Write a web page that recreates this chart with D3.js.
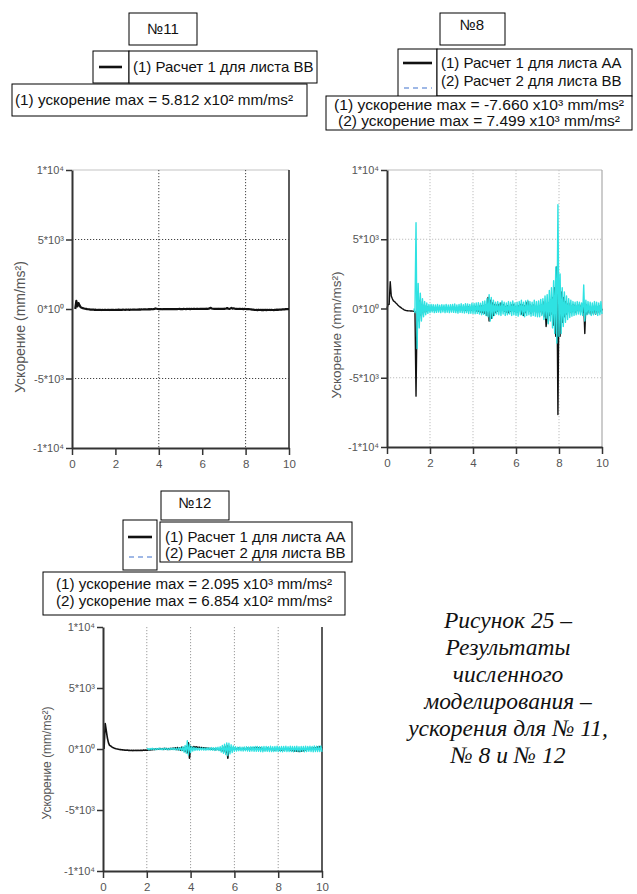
<!DOCTYPE html>
<html>
<head>
<meta charset="utf-8">
<script src="https://cdn.jsdelivr.net/npm/d3@7/dist/d3.min.js"></script>
<style>
  body { margin: 0; background: #fff; }
  svg { display: block; }
</style>
</head>
<body>
<svg id="fig" width="637" height="894"></svg>
<script>
// ---- axes ----
const timeTicks = [0, 2, 4, 6, 8, 10];
const accelTicks = [-1e4, -5e3, 0, 5e3, 1e4];
const accelTickLabels = ["-1*10⁴", "-5*10³", "0*10⁰", "5*10³", "1*10⁴"];
const accelTitle = "Ускорение (mm/ms²)";

// ---- records: acceleration (mm/ms²), sampled every sampleStep ms ----
const sampleStep = 0.05;

// №11, sheet BB
const start11BB = 0.15;
const accel11BB = [
  0, 581.2, 180, 430, 260, 120, 90, 60, 40, 20, 10, -10, -20, -30, -40, -35, -50, -45,
  -60, -50, -70, -55, -65, -60, -75, -55, -70, -60, -65, -70, -55, -60, -75, -60, -65, -55, -70, -60,
  -55, -60, -50, -65, -55, -60, -50, -55, -65, -50, -55, -45, -60, -50, -55, -45, -50, -40, -55, -45,
  -40, -30, -45, -30, -35, -25, -30, -20, -35, -20, -15, -25, -10, -20, -5, 10, 40, 20, 0, -10,
  -15, -10, -20, -5, -15, -10, -5, -15, -10, -5, -10, 0, -10, -5, 0, -10, -5, 0, 5, -5,
  0, -5, 5, 0, -5, 5, 0, 10, -5, 5, 0, 10, 5, 0, 10, 5, 0, 10, 15, 5,
  10, 5, 15, 20, 10, 25, 60, 80, 30, 20, 10, 15, 5, 10, 20, 10, 5, 15, 10, 20,
  15, 30, 70, 20, 10, 40, 80, 30, 50, 20, 10, 15, 0, 10, 5, 0, 10, -5, 5, 0,
  -5, 0, -10, -20, -30, -40, -50, -60, -70, -60, -80, -50, -70, -60, -80, -65, -75, -55, -80, -60,
  -70, -55, -75, -60, -70, -80, -55, -65, -50, -60, -40, -35, -45, -30, -20, -25, -10, -15, -5, 0
];

// №8, sheet AA
const start8AA = 0;
const accel8AA = [
  0, 300, 300, 1940, 900, 700, 550, 500, 420, 350, 250, 180, 120, 60, 0, -50, -100, -130, -150, -160, -170,
  -170, -180, -180, -190, -200, -220, -6330, -300, 1200, -900, 600, -500, 300, -300, 200, -250, 150, -150, 100, -100,
  -100, 80, -90, 60, -80, 50, -70, 60, -50, 40, -60, 50, -40, 60, -50, 40, -60, 30, -40, 50,
  -60, 80, -70, 60, -90, 70, -80, 100, -90, 60, -100, 80, -120, 90, -100, 110, -90, 80, -130, 100,
  -120, 150, -180, 120, -200, 160, -250, 180, -300, 200, -350, 250, -500, 800, -900, 600, -700, 400, -500, 300,
  -300, 250, -200, 300, 200, 400, -100, 300, -200, 150, -250, 200, -300, 100, -200, 250, -150, 300, -200, 150,
  -250, 200, -150, 300, -400, 250, -500, 200, -300, 400, 500, -200, 300, -350, 200, -250, 300, -200, 150, -300,
  200, -250, 300, -400, 500, -600, 300, -1300, -700, 400, -500, 600, -400, 800, -1200, 1500, -2000, 3000, -7660, 1500,
  -2000, 1200, -1000, 800, -600, 500, -400, 300, 400, -300, 200, -250, 300, -200, 250, -300, 200, -150, 300, -200,
  250, -300, 400, -1800, 300, -400, 200, -300, 150, -400, 100, -350, 200, -400, 150, -300, 200, -250, 100, -150
];

// №8, sheet BB
const start8BB = 1.25;
const accel8BB = [
  0, -300, 6190, -2900, 1800, -1400, 1100, -900, 700, -600, 500, -450, 400, -350, 300, -300,
  300, -250, 280, -300, 250, -280, 300, -260, 240, -300, 280, -250, 260, -300, 300, -270, 250, -300, 280, -260,
  300, -280, 320, -300, 260, -330, 300, -280, 340, -300, 280, -320, 350, -300, 330, -360, 300, -340, 380, -350,
  360, -380, 400, -350, 420, -400, 380, -450, 500, -420, 550, -500, 700, -600, 1000, -900, 800, -700, 600, -500,
  450, -400, 500, -450, 400, -500, 550, -400, 450, -500, 400, -450, 500, -400, 450, -500, 550, -450, 400, -500,
  450, -550, 500, -450, 600, -500, 450, -600, 550, -500, 600, -450, 500, -550, 450, -500, 600, -550, 500, -600,
  550, -600, 650, -500, 700, -800, 900, -700, 1000, -1100, 1300, -900, 1500, -1400, 2000, -1800, 3000, -2500, 7499, -2000,
  2500, -1800, 1500, -1300, 1200, -1000, 900, -800, 700, -650, 600, -550, 500, -500, 450, -450, 500, -400, 450, -450,
  400, -500, 1700, -900, 600, -450, 500, -400, 450, -500, 400, -450, 500, -400, 450, -500, 400, -450, 500, -400
];

// №12, sheet AA
const start12AA = 0.05;
const accel12AA = [
  0, 2095, 1500, 900, 500, 300, 250, 180, 120, 80, 50, 20, 0, -20, -40, -50, -60, -70, -80, -90,
  -100, -90, -110, -100, -120, -110, -130, -115, -120, -110, -130, -100, -120, -110, -100, -120, -90, -110, -80, -100,
  -90, -60, -80, -40, -60, -20, -50, 0, -30, 20, -20, 40, -10, 30, -30, 50, -20, 40, -40, 30,
  -30, 60, -20, 80, 0, 100, -40, 120, -60, 80, -100, 150, -100, 120, -200, 200, -300, 500, -750, 200,
  150, 100, 200, 120, 180, 150, 100, 140, 90, 120, 60, 100, 40, 80, 20, 60, 0, 40, -20, 30,
  -30, 20, -50, 40, 0, -60, 30, -100, 50, -200, 200, -300, 300, -750, 200, -200, 100, -50, 80, 0,
  50, -20, 80, 20, 60, -30, 40, 0, 70, -40, 30, 60, 0, 50, -20, 80, 30, 100, 40, 120,
  60, 100, 20, 80, -20, 40, -60, 20, -40, 60, 0, -50, 30, -80, 0, -100, -20, -60, 10, -40,
  -80, -20, -100, -40, -60, 0, -30, 40, -50, 20, -80, -40, -120, -60, -150, -100, -180, -120, -200, -150,
  -180, -100, -140, -60, -80, 0, -20, 40, 0, 60, 20, 80, 40, 100, 60, 150, 100, 200, 120, 180
];

// №12, sheet BB
const start12BB = 2.0;
const accel12BB = [
  0,
  40, -60, 50, -40, 60, -50, 30, -60, 50, -40, 70, -50, 40, -60, 50, -40, 60, -50, 40, -60,
  60, -50, 70, -60, 80, -70, 60, -80, 100, -90, 120, -150, 200, -250, 300, -350, 685.4, -500, 400, -300,
  200, -180, 150, -120, 100, -90, 80, -100, 90, -80, 100, -90, 80, -100, 90, -80, 100, -90, 120, -100,
  110, -120, 130, -100, 150, -140, 200, -250, 300, -350, 400, -450, 500, -550, 480, -400, 350, -300, 250, -200,
  200, -180, 160, -150, 180, -160, 150, -170, 180, -150, 200, -180, 170, -200, 190, -180, 200, -190, 210, -200,
  220, -200, 190, -210, 200, -230, 210, -200, 220, -190, 200, -220, 230, -210, 200, -220, 210, -200, 230, -210,
  200, -220, 210, -230, 220, -200, 230, -210, 200, -220, 240, -210, 220, -230, 210, -200, 230, -220, 200, -230,
  220, -200, 210, -230, 240, -210, 220, -200, 230, -220, 210, -240, 250, -220, 230, -210, 240, -220, 260, -230
];

// ---- captions ----
const panelTitles = ["№11", "№8", "№12"];
const legendNames11 = ["(1) Расчет 1 для листа ВВ"];
const legendNames8 = ["(1) Расчет 1 для листа АА", "(2) Расчет 2 для листа ВВ"];
const legendNames12 = ["(1) Расчет 1 для листа АА", "(2) Расчет 2 для листа ВВ"];
const figureCaption = ["Рисунок 25 –", "Результаты", "численного", "моделирования –", "ускорения для № 11,", "№ 8 и № 12"];

// ---- styling ----
const SANS = "'Liberation Sans', Arial, sans-serif";
const SERIF = "'Liberation Serif', 'Times New Roman', serif";
const COL_AA = "#111";
const COL_BB = "#2fe2e2";
const COL_BB_KEY = "#9fb8e6";
const BOX_FONT = 15;
const PEAK_FONT = 14;

const svg = d3.select("#fig");

// peak of a record by absolute value, written like "5.812 x10²"
const SUP = { "0": "⁰", "1": "¹", "2": "²", "3": "³", "4": "⁴", "5": "⁵", "-": "⁻" };
function peakOf(values) {
  return values.reduce((m, v) => Math.abs(v) > Math.abs(m) ? v : m, 0);
}
function sci(v) {
  const e = Math.floor(Math.log10(Math.abs(v)));
  const m = (v / Math.pow(10, e)).toFixed(3);
  return `${m} x10${String(e).split("").map(c => SUP[c]).join("")}`;
}
function peakLine(n, values) {
  return `(${n}) ускорение max = ${sci(peakOf(values))} mm/ms²`;
}

function drawPanel(cfg) {
  const g = svg.append("g");
  const x = d3.scaleLinear().domain([0, 10]).range([cfg.left, cfg.right]);
  const y = d3.scaleLinear().domain([-1e4, 1e4]).range([cfg.bottom, cfg.top]);

  // frame on top/right
  if (cfg.topFrame) {
    g.append("line").attr("x1", cfg.left).attr("x2", cfg.right)
      .attr("y1", cfg.top).attr("y2", cfg.top)
      .attr("stroke", cfg.topFrame).attr("stroke-width", 1.2);
  }
  g.append("line").attr("x1", cfg.right).attr("x2", cfg.right)
    .attr("y1", cfg.top).attr("y2", cfg.bottom)
    .attr("stroke", cfg.rightFrame).attr("stroke-width", cfg.rightFrameWidth);

  // dotted grid
  g.selectAll(".vgrid").data(cfg.vGrid).enter().append("line")
    .attr("x1", d => x(d)).attr("x2", d => x(d))
    .attr("y1", cfg.top).attr("y2", cfg.bottom)
    .attr("stroke", cfg.gridColor).attr("stroke-width", 1)
    .attr("stroke-dasharray", "1.2,1.8");
  g.selectAll(".hgrid").data(cfg.hGrid).enter().append("line")
    .attr("x1", cfg.left).attr("x2", cfg.right)
    .attr("y1", d => y(d)).attr("y2", d => y(d))
    .attr("stroke", cfg.gridColor).attr("stroke-width", 1)
    .attr("stroke-dasharray", "1.2,1.8");

  // records
  cfg.series.forEach(s => {
    const line = d3.line()
      .x((d, i) => x(s.start + i * sampleStep))
      .y(d => y(d));
    g.append("path").datum(s.values)
      .attr("d", line)
      .attr("fill", "none")
      .attr("stroke", s.color)
      .attr("stroke-width", s.width)
      .attr("stroke-linejoin", "round");
  });

  // axes
  const yAxis = d3.axisLeft(y).tickValues(accelTicks)
    .tickFormat((d, i) => accelTickLabels[i])
    .tickSize(6).tickSizeOuter(0).tickPadding(2);
  g.append("g").attr("transform", `translate(${cfg.left},0)`).call(yAxis)
    .call(a => a.select(".domain").attr("stroke", "#333").attr("stroke-width", 2))
    .call(a => a.selectAll(".tick line").attr("stroke", "#333").attr("stroke-width", 1.5))
    .call(a => a.selectAll("text").attr("font-size", 11).attr("fill", "#555")
      .attr("font-family", SANS));

  const xAxis = d3.axisBottom(x).tickValues(timeTicks)
    .tickSize(7).tickSizeOuter(0).tickPadding(5);
  g.append("g").attr("transform", `translate(0,${cfg.bottom})`).call(xAxis)
    .call(a => a.select(".domain").attr("stroke", "#333").attr("stroke-width", 2))
    .call(a => a.selectAll(".tick line").attr("stroke", "#333").attr("stroke-width", 1.5))
    .call(a => a.selectAll("text").attr("font-size", 11.5).attr("fill", "#555")
      .attr("font-family", SANS));

  g.append("text")
    .attr("transform", `translate(${cfg.titleX},${cfg.titleY}) rotate(-90)`)
    .attr("text-anchor", "middle").attr("dominant-baseline", "middle")
    .attr("font-family", SANS).attr("font-size", cfg.titleSize).attr("fill", "#555")
    .text(accelTitle);
}

function box(x, y, w, h) {
  svg.append("rect").attr("x", x).attr("y", y).attr("width", w).attr("height", h)
    .attr("fill", "#fff").attr("stroke", "#000").attr("stroke-width", 1);
}
function text(x, y, t, size, anchor, width) {
  const el = svg.append("text").attr("x", x).attr("y", y)
    .attr("font-family", SANS).attr("font-size", size)
    .attr("text-anchor", anchor || "start").attr("fill", "#111")
    .text(t);
  if (width) el.attr("textLength", width).attr("lengthAdjust", "spacingAndGlyphs");
}
function keyLine(x1, x2, y, color, dashed) {
  svg.append("line").attr("x1", x1).attr("x2", x2).attr("y1", y).attr("y2", y)
    .attr("stroke", color).attr("stroke-width", dashed ? 2 : 2.6)
    .attr("stroke-dasharray", dashed ? "5,4" : null);
}

// ---- panel №11 ----
drawPanel({
  left: 72, right: 289, top: 170, bottom: 448,
  topFrame: "#c4c4c4", rightFrame: "#333", rightFrameWidth: 1.6,
  vGrid: [4, 8], hGrid: [-5e3, 5e3], gridColor: "#444",
  titleX: 21, titleY: 327, titleSize: 14,
  series: [{ start: start11BB, values: accel11BB, color: COL_AA, width: 2.2 }]
});
box(129, 13, 68, 32); text(163, 34, panelTitles[0], BOX_FONT, "middle");
box(93, 51, 36, 32); keyLine(99, 122, 67, COL_AA, false);
box(129, 51, 188, 32); text(133, 72, legendNames11[0], BOX_FONT);
box(12, 84, 295, 32); text(15, 105, peakLine(1, accel11BB), BOX_FONT, "start", 278);

// ---- panel №8 ----
drawPanel({
  left: 387, right: 602, top: 170, bottom: 447,
  topFrame: "#bbb", rightFrame: "#aaa", rightFrameWidth: 1.2,
  vGrid: [2, 4, 6, 8], hGrid: [-5e3, 5e3], gridColor: "#bdbdbd",
  titleX: 337, titleY: 335, titleSize: 13.5,
  series: [
    { start: start8AA, values: accel8AA, color: COL_AA, width: 1.4 },
    { start: start8BB, values: accel8BB, color: COL_BB, width: 1.4 }
  ]
});
box(440, 13, 65, 32); text(472, 30, panelTitles[1], BOX_FONT, "middle");
box(398, 49, 39, 55); keyLine(403, 432, 63, COL_AA, false); keyLine(404, 432, 88, COL_BB_KEY, true);
box(437, 49, 195, 47);
text(441, 68, legendNames8[0], BOX_FONT); text(441, 86, legendNames8[1], BOX_FONT);
box(326, 96, 306, 34);
text(479, 110, peakLine(1, accel8AA), PEAK_FONT, "middle", 290);
text(479, 126, peakLine(2, accel8BB), PEAK_FONT, "middle", 282);

// ---- panel №12 ----
drawPanel({
  left: 103, right: 322, top: 627, bottom: 871,
  topFrame: null, rightFrame: "#333", rightFrameWidth: 1.6,
  vGrid: [2, 4, 6, 8], hGrid: [], gridColor: "#9a9a9a",
  titleX: 48, titleY: 763, titleSize: 12,
  series: [
    { start: start12AA, values: accel12AA, color: COL_AA, width: 1.6 },
    { start: start12BB, values: accel12BB, color: COL_BB, width: 1.3 }
  ]
});
box(161, 491, 68, 29); text(195, 508, panelTitles[2], BOX_FONT, "middle");
box(123, 520, 34, 50); keyLine(128, 152, 537, COL_AA, false); keyLine(129, 152, 557, COL_BB_KEY, true);
box(160, 522, 192, 40);
text(165, 542, legendNames12[0], BOX_FONT); text(165, 558, legendNames12[1], BOX_FONT);
box(43, 572, 302, 43);
text(194, 589, peakLine(1, accel12AA), PEAK_FONT, "middle", 276);
text(194, 606, peakLine(2, accel12BB), PEAK_FONT, "middle", 276);

// ---- figure caption ----
svg.append("g").selectAll("text").data(figureCaption).enter().append("text")
  .attr("x", 508).attr("y", (d, i) => 628 + i * 27)
  .attr("text-anchor", "middle")
  .attr("font-family", SERIF).attr("font-style", "italic").attr("font-size", 23.5)
  .attr("fill", "#111")
  .text(d => d);
</script>
</body>
</html>
